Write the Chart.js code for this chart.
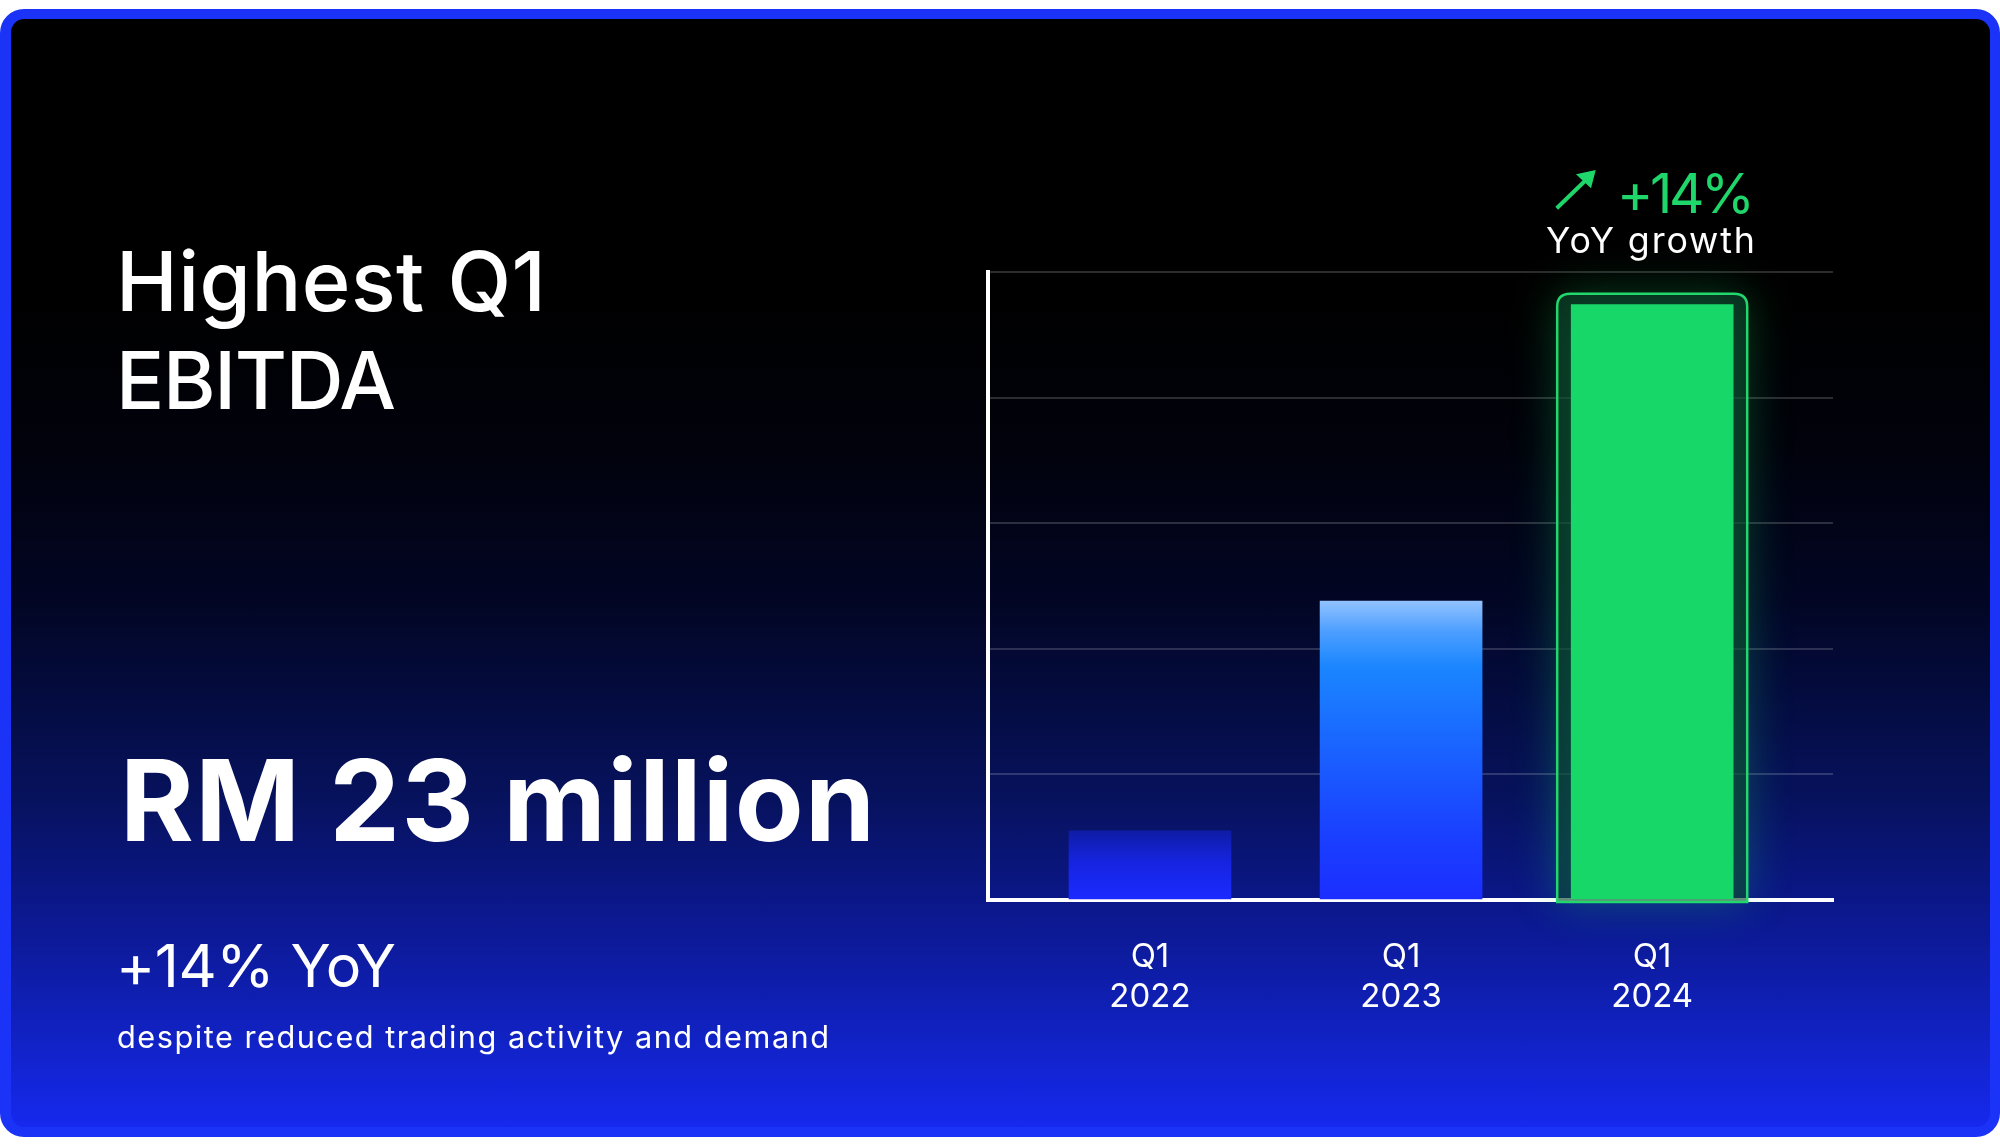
<!DOCTYPE html>
<html>
<head>
<meta charset="utf-8">
<title>Highest Q1 EBITDA</title>
<script src="https://cdn.jsdelivr.net/npm/chart.js@4.4.1/dist/chart.umd.min.js"></script>
<style>
  html, body { margin:0; padding:0; width:2000px; height:1146px; overflow:hidden; background:#fff; font-family:Inter, 'Noto Sans', sans-serif; }
  #card {
    position:absolute; left:0; top:9px; width:2000px; height:1128px; box-sizing:border-box;
    border:10px solid #1b33f6; border-left-width:11px; border-radius:24px;
    background:linear-gradient(to bottom, #000 0%, #000 25%, #01020c 39%, #020624 52.5%, #040c40 61.5%, #07125e 70.5%, #0b1788 79.5%, #0f1fb2 88.5%, #1629ee 100%);
  }
  #chart { position:absolute; left:0; top:0; }
  .t { position:absolute; white-space:nowrap; color:#fff; line-height:1; margin:0; }
  .green { color:#1fd66b; }
  #arrow { position:absolute; left:1550px; top:160px; }
</style>
</head>
<body>
<div id="card"></div>
<canvas id="chart" width="2000" height="1146"></canvas>

<!-- data-x: left, data-b: baseline, data-w: width (px) -->
<div class="t" style="font-size:82px;font-weight:500" data-x="116" data-b="311" data-w="430">Highest Q1</div>
<div class="t" style="font-size:82px;font-weight:500" data-x="116" data-b="409" data-w="280">EBITDA</div>
<div class="t" style="font-size:110px;font-weight:700" data-x="120" data-b="841" data-w="755">RM 23 million</div>
<div class="t" style="font-size:60px;font-weight:400" data-x="116" data-b="987" data-w="280">+14% YoY</div>
<div class="t" style="font-size:28px;font-weight:400" data-x="117" data-b="1048" data-w="712">despite reduced trading activity and demand</div>
<div class="t green" style="font-size:59px;font-weight:400" data-x="1617" data-b="213" data-w="138">+14%</div>
<div class="t" style="font-size:33px;font-weight:400" data-x="1546" data-b="253" data-w="209">YoY growth</div>
<svg id="arrow" width="60" height="60" viewBox="0 0 60 60">
  <line x1="6.7" y1="48.3" x2="38" y2="18" stroke="#1fd66b" stroke-width="4"/>
  <polygon points="45.7,10 26,14.3 41,28.3" fill="#1fd66b"/>
</svg>

<script>
// Q1 EBITDA (RM million)
const categories = [['Q1', '2022'], ['Q1', '2023'], ['Q1', '2024']];
const ebitda = [2.75, 11.9, 23.7];
const yMax = 25;
const yStep = 5;

// place each text by its baseline; reach the measured width half by size, half by spacing
document.querySelectorAll('.t').forEach(el => {
  const text = el.textContent;
  el.style.left = el.dataset.x + 'px';
  el.style.top = '0px';
  const target = +el.dataset.w;
  const size0 = parseFloat(el.style.fontSize);
  const w0 = el.getBoundingClientRect().width;
  el.style.fontSize = (size0 * Math.sqrt(target / w0)).toFixed(1) + 'px';
  const w1 = el.getBoundingClientRect().width;
  const ls = (target - w1) / Math.max(1, text.length - 1);
  el.style.letterSpacing = ls.toFixed(2) + 'px';
  const probe = document.createElement('span');
  probe.style.cssText = 'display:inline-block;width:0;height:0;vertical-align:baseline';
  el.appendChild(probe);
  const base = probe.getBoundingClientRect().top;
  el.style.top = (+el.dataset.b - base) + 'px';
});

function barGradient(ctx, top, bottom, i) {
  const g = ctx.createLinearGradient(0, top, 0, bottom);
  if (i === 0) {
    g.addColorStop(0, '#0f1ca6');
    g.addColorStop(0.45, '#1624e0');
    g.addColorStop(1, '#1b2bff');
  } else if (i === 1) {
    g.addColorStop(0, '#92c2ff');
    g.addColorStop(0.1, '#4d9fff');
    g.addColorStop(0.22, '#1a86ff');
    g.addColorStop(0.5, '#1a62ff');
    g.addColorStop(0.78, '#1a40ff');
    g.addColorStop(1, '#1b2eff');
  } else {
    return '#18d769';
  }
  return g;
}

function roundRect(ctx, x, y, w, h, r) {
  ctx.beginPath();
  ctx.moveTo(x + r, y);
  ctx.lineTo(x + w - r, y);
  ctx.quadraticCurveTo(x + w, y, x + w, y + r);
  ctx.lineTo(x + w, y + h);
  ctx.lineTo(x, y + h);
  ctx.lineTo(x, y + r);
  ctx.quadraticCurveTo(x, y, x + r, y);
  ctx.closePath();
}

// glow + rounded outline round the latest bar
const glowPlugin = {
  id: 'glow',
  beforeDatasetsDraw(chart) {
    const bar = chart.getDatasetMeta(0).data[2];
    if (!bar) return;
    const ctx = chart.ctx;
    const x = bar.x - bar.width / 2 - 14, y = bar.y - 11;
    ctx.save();
    ctx.shadowColor = 'rgba(24,215,105,0.5)';
    ctx.shadowBlur = 45;
    ctx.fillStyle = 'rgba(12,70,45,0.6)';
    roundRect(ctx, x, y, bar.width + 28, bar.base - y + 3, 13);
    ctx.fill();
    ctx.restore();
  },
  afterDatasetsDraw(chart) {
    const bar = chart.getDatasetMeta(0).data[2];
    if (!bar) return;
    const ctx = chart.ctx;
    const x = bar.x - bar.width / 2 - 14, y = bar.y - 11;
    ctx.save();
    ctx.strokeStyle = '#22d86c';
    ctx.lineWidth = 2.5;
    roundRect(ctx, x, y, bar.width + 28, bar.base - y + 3, 13);
    ctx.stroke();
    ctx.restore();
  }
};

new Chart(document.getElementById('chart'), {
  type: 'bar',
  data: {
    datasets: [{
      data: ebitda.map((v, i) => ({ x: i + 1, y: v })),
      barThickness: 162,
      borderWidth: 0,
      clip: false,
      backgroundColor: (c) => {
        const chart = c.chart;
        if (!chart.chartArea || c.dataIndex == null) return '#1b2bff';
        const ys = chart.scales.y;
        return barGradient(chart.ctx, ys.getPixelForValue(ebitda[c.dataIndex]), ys.getPixelForValue(0), c.dataIndex);
      }
    }]
  },
  options: {
    responsive: false,
    animation: false,
    layout: { padding: { left: 988, top: 272, right: 167, bottom: 0 } },
    plugins: { legend: { display: false }, tooltip: { enabled: false } },
    scales: {
      x: {
        type: 'linear',
        offset: false,
        bounds: 'data',
        min: 0.355,
        max: 3.72,
        grid: { display: true, offset: false, color: 'rgba(0,0,0,0)', drawTicks: false },
        border: { display: true, color: '#ffffff', width: 4 },
        afterBuildTicks: (s) => { s.ticks = categories.map((c, i) => ({ value: i + 1 })); },
        afterFit: (s) => { s.height = 246; },
        ticks: {
          color: '#ffffff',
          padding: 37,
          autoSkip: false,
          maxRotation: 0,
          font: { family: 'Inter', size: 33, lineHeight: 1.22 },
          callback: (v) => categories[Math.round(v) - 1]
        }
      },
      y: {
        min: 0,
        max: yMax,
        grid: { color: 'rgba(255,255,255,0.17)', lineWidth: 2, drawTicks: false },
        border: { display: true, color: '#ffffff', width: 4 },
        afterFit: (s) => { s.width = 0; },
        ticks: { display: false, stepSize: yStep }
      }
    }
  },
  plugins: [glowPlugin]
});
</script>
</body>
</html>
